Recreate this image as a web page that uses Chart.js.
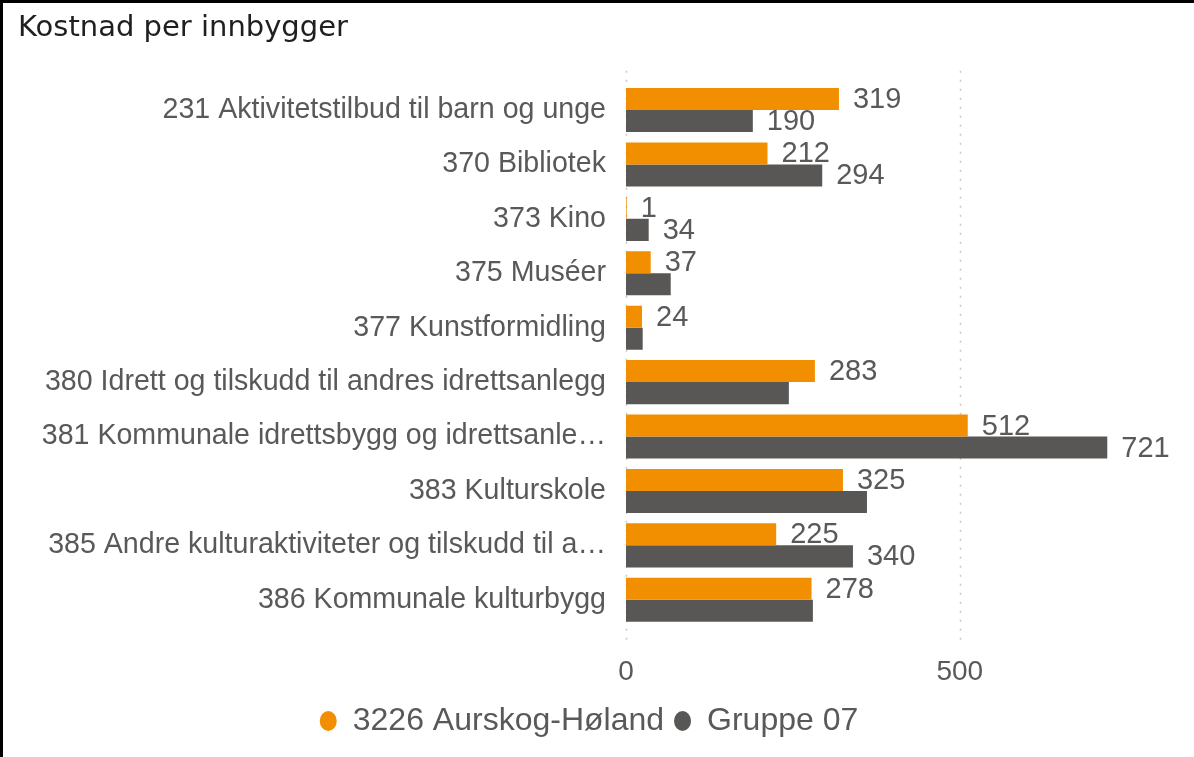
<!DOCTYPE html>
<html>
<head>
<meta charset="utf-8">
<script src="https://cdn.jsdelivr.net/npm/chart.js@4"></script>
<style>
  html, body { margin: 0; padding: 0; background: #fff; }
  #wrap {
    width: 1194px; height: 757px; box-sizing: border-box;
    border-top: 3px solid #000; border-left: 3px solid #000;
    position: relative;
  }
</style>
</head>
<body>
<div id="wrap"><canvas id="chart"></canvas></div>
<script>
const categories = [
  "231 Aktivitetstilbud til barn og unge",
  "370 Bibliotek",
  "373 Kino",
  "375 Muséer",
  "377 Kunstformidling",
  "380 Idrett og tilskudd til andres idrettsanlegg",
  "381 Kommunale idrettsbygg og idrettsanle…",
  "383 Kulturskole",
  "385 Andre kulturaktiviteter og tilskudd til a…",
  "386 Kommunale kulturbygg",
];
const aurskog = [319, 212, 1, 37, 24, 283, 512, 325, 225, 278];
const gruppe07 = [190, 294, 34, 67, 25, 244, 721, 361, 340, 280];
const xTicks = [0, 500];

const ORANGE = "#F28F00";
const GRAY = "#585756";
const TEXT = "#595959";
const LABEL_FONT = "29px 'Liberation Sans', Arial, sans-serif";

// dotted vertical gridlines, a bit longer than the plot area
const gridPlugin = {
  id: "dotGrid",
  beforeDatasetsDraw(chart) {
    const { ctx, chartArea, scales } = chart;
    ctx.save();
    ctx.strokeStyle = "#c8c8c8";
    ctx.lineWidth = 1.5;
    ctx.setLineDash([2, 7]);
    for (const v of xTicks) {
      const x = Math.round(scales.x.getPixelForValue(v)) + 0.5;
      ctx.beginPath();
      ctx.moveTo(x, chartArea.top - 12);
      ctx.lineTo(x, chartArea.bottom + 18);
      ctx.stroke();
    }
    ctx.restore();
  },
};

// value labels at bar ends; gray label dropped if it collides with the orange one
const valueLabels = {
  id: "valueLabels",
  afterDatasetsDraw(chart) {
    const { ctx } = chart;
    ctx.save();
    ctx.font = LABEL_FONT;
    ctx.fillStyle = TEXT;
    ctx.textBaseline = "middle";
    ctx.textAlign = "left";
    const m0 = chart.getDatasetMeta(0).data;
    const m1 = chart.getDatasetMeta(1).data;
    const ds = chart.data.datasets;
    for (let i = 0; i < m0.length; i++) {
      const t0 = String(ds[0].data[i]);
      const x0 = m0[i].x + 14;
      const w0 = ctx.measureText(t0).width;
      ctx.fillText(t0, x0, m0[i].y + 1);
      const t1 = String(ds[1].data[i]);
      const x1 = m1[i].x + 14;
      const w1 = ctx.measureText(t1).width;
      const overlap = x1 < x0 + w0 + 4 && x0 < x1 + w1 + 4;
      if (!overlap) ctx.fillText(t1, x1, m1[i].y + 1);
    }
    ctx.restore();
  },
};

new Chart(document.getElementById("chart"), {
  type: "bar",
  data: {
    labels: categories,
    datasets: [
      { label: "3226 Aurskog-Høland", data: aurskog, backgroundColor: ORANGE },
      { label: "Gruppe 07", data: gruppe07, backgroundColor: GRAY },
    ],
  },
  plugins: [gridPlugin, valueLabels],
  options: {
    indexAxis: "y",
    animation: false,
    responsive: true,
    maintainAspectRatio: false,
    datasets: { bar: { categoryPercentage: 0.81, barPercentage: 1.0 } },
    layout: { padding: { left: 15, right: 34, top: 0, bottom: 10 } },
    plugins: {
      title: {
        display: true,
        text: "Kostnad per innbygger",
        align: "start",
        color: "#201f1e",
        font: { family: "'DejaVu Sans', sans-serif", size: 29, weight: "normal" },
        padding: { top: 8, bottom: 37 },
      },
      legend: {
        position: "bottom",
        labels: {
          usePointStyle: true,
          pointStyle: "circle",
          pointStyleWidth: 17,
          boxHeight: 14,
          color: TEXT,
          padding: 10,
          font: { family: "'Liberation Sans', Arial, sans-serif", size: 32 },
        },
      },
      tooltip: { enabled: false },
    },
    scales: {
      x: {
        min: 0,
        max: 800,
        afterBuildTicks: (s) => { s.ticks = xTicks.map((v) => ({ value: v })); },
        afterFit: (s) => { s.height = 68; },
        grid: { display: false, drawTicks: false },
        border: { display: false },
        ticks: {
          color: TEXT,
          padding: 28,
          font: { family: "'Liberation Sans', Arial, sans-serif", size: 28 },
        },
      },
      y: {
        afterFit: (s) => { s.width = 608; },
        grid: { display: false, drawTicks: false },
        border: { display: false },
        ticks: {
          color: TEXT,
          padding: 20,
          autoSkip: false,
          font: { family: "'Liberation Sans', Arial, sans-serif", size: 28.6 },
        },
      },
    },
  },
});
</script>
</body>
</html>
